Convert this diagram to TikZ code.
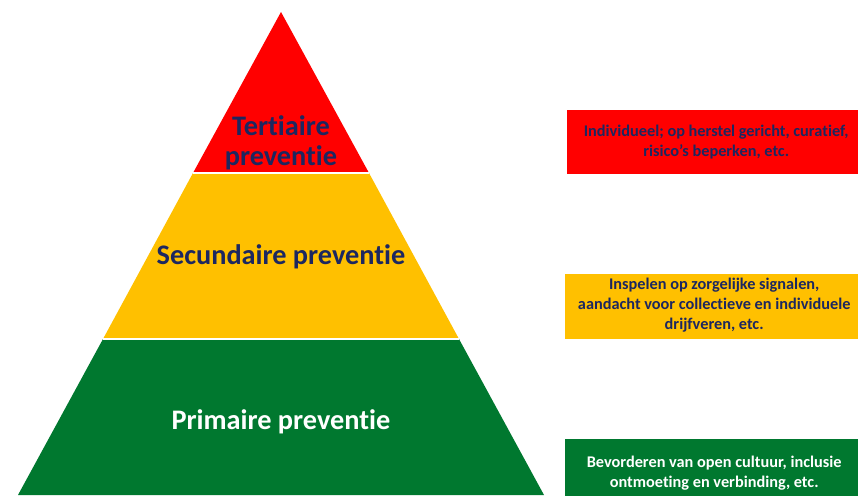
\documentclass[tikz,border=0pt]{standalone}
\usepackage{fontspec}
\setmainfont[Ligatures=NoCommon]{Carlito}
\usepackage{tikz}
\usetikzlibrary{positioning}

\definecolor{tred}{HTML}{FF0000}
\definecolor{tyellow}{HTML}{FFC000}
\definecolor{tgreen}{HTML}{00782F}
\definecolor{tnavy}{HTML}{1C2760}

\begin{document}
\begin{tikzpicture}[x=1pt, y=1pt,
    band/.style={draw=white, line width=1.5pt, line join=miter},
    level/.style={font=\bfseries\fontsize{28.3}{30}\selectfont, align=center},
    infobox/.style={font=\bfseries\fontsize{16.3}{20}\selectfont, align=center,
        minimum width=298, inner sep=0pt, anchor=north west}]
    \clip (0,0) rectangle (858,495);

    % corners of the pyramid
    \coordinate (top) at (281,483);
    \coordinate (rl) at (193,322);
    \coordinate (rr) at (369,322);
    \coordinate (yl) at (103,156);
    \coordinate (yr) at (459,156);
    \coordinate (gl) at (18,0);
    \coordinate (gr) at (544,0);

    \fill[tgreen] (yl) -- (yr) -- (gr) -- (gl) -- cycle;
    \fill[tyellow] (rl) -- (rr) -- (yr) -- (yl) -- cycle;
    \fill[tred] (top) -- (rr) -- (rl) -- cycle;
    \draw[band] (rl) -- (rr);
    \draw[band] (yl) -- (yr);

    \node[level, text=tnavy] (tert) at (281,352) {Tertiaire\\preventie};
    \node[level, text=tnavy] (sec) at (281,238) {Secundaire preventie};
    \node[level, text=white] (prim) at (281,73) {Primaire preventie};

    \node[infobox, fill=tred, text=tnavy, minimum height=64] (tbox) at (567,385)
        {Individueel; op herstel gericht, curatief,\\risico's beperken, etc.};
    \node[infobox, fill=tyellow, text=tnavy, minimum height=65, text depth=5pt] (sbox) at (565,221)
        {Inspelen op zorgelijke signalen,\\aandacht voor collectieve en individuele\\drijfveren, etc.};
    \node[infobox, fill=tgreen, text=white, minimum height=68] (pbox) at (565,56)
        {Bevorderen van open cultuur, inclusie\\ontmoeting en verbinding, etc.};
\end{tikzpicture}
\end{document}
